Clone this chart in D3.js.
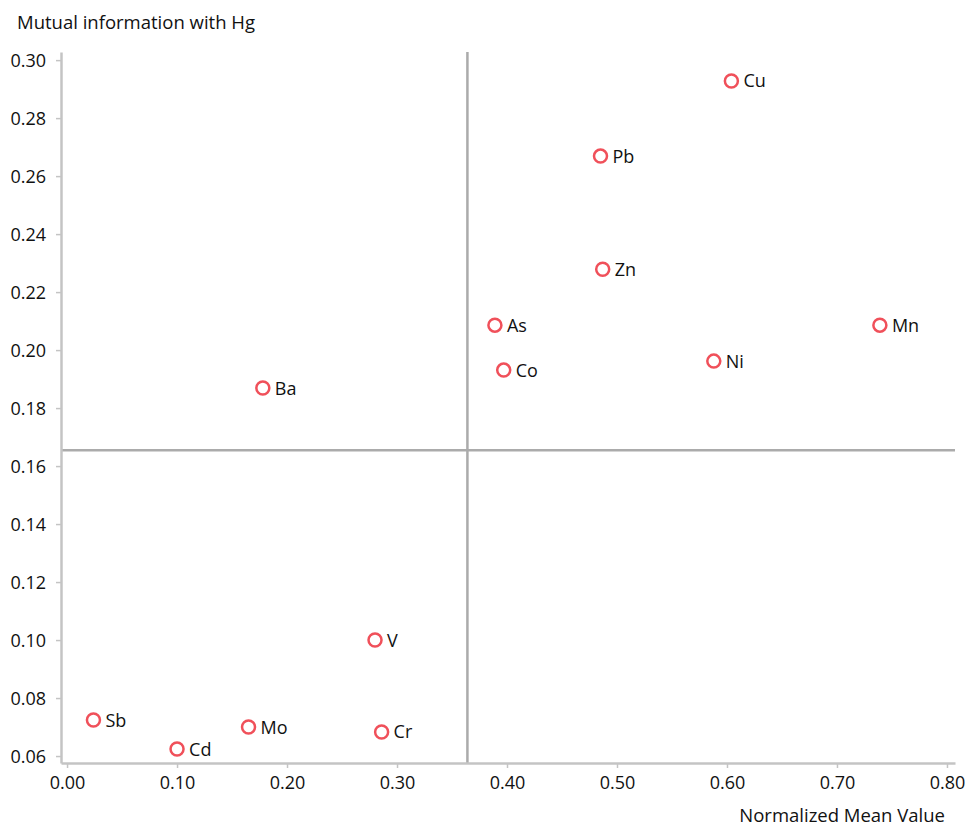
<!DOCTYPE html>
<html>
<head>
<meta charset="utf-8">
<script src="https://cdn.jsdelivr.net/npm/d3@7"></script>
<style>
  html, body { margin: 0; padding: 0; background: #fff; }
  svg { display: block; }
  text { font-family: "Open Sans", "DejaVu Sans", sans-serif; fill: #111; }
</style>
</head>
<body>
<svg id="chart" width="969" height="832"></svg>
<script>
// ---- data ----
const elements = ["Cu", "Pb", "Zn", "As", "Mn", "Co", "Ni", "Ba", "V", "Sb", "Mo", "Cr", "Cd"];
const meanValues = [0.604, 0.485, 0.487, 0.389, 0.739, 0.397, 0.588, 0.178, 0.280, 0.024, 0.165, 0.286, 0.100];
const mutualInfo = [0.2928, 0.2669, 0.2279, 0.2086, 0.2086, 0.1931, 0.1962, 0.1869, 0.1000, 0.0724, 0.0700, 0.0683, 0.0624];
const xTicks = [0.0, 0.1, 0.2, 0.3, 0.4, 0.5, 0.6, 0.7, 0.8];
const yTicks = [0.06, 0.08, 0.10, 0.12, 0.14, 0.16, 0.18, 0.20, 0.22, 0.24, 0.26, 0.28, 0.30];
const refX = 0.364;   // vertical reference line (x)
const refY = 0.1655;  // horizontal reference line (y)
const xTitle = "Normalized Mean Value";
const yTitle = "Mutual information with Hg";

// ---- layout ----
const svg = d3.select("#chart");
const mLeft = 61, mRight = 955, mTop = 52, mBottom = 763;
const x = d3.scaleLinear().domain([-0.0055, 0.8073]).range([mLeft, mRight]);
const y = d3.scaleLinear().domain([0.0576, 0.3028]).range([mBottom, mTop]);

const axisColor = "#c4c4c4";
const refColor = "#ababab";
const pointColor = "#f0505a";

// reference lines
svg.append("line")
  .attr("x1", x(refX)).attr("x2", x(refX))
  .attr("y1", mTop).attr("y2", mBottom)
  .attr("stroke", refColor).attr("stroke-width", 2.5);
svg.append("line")
  .attr("x1", mLeft).attr("x2", mRight)
  .attr("y1", y(refY)).attr("y2", y(refY))
  .attr("stroke", refColor).attr("stroke-width", 2.5);

// axes
const xAxis = d3.axisBottom(x).tickValues(xTicks).tickFormat(d3.format(".2f")).tickSize(5).tickSizeOuter(0).tickPadding(5);
const yAxis = d3.axisLeft(y).tickValues(yTicks).tickFormat(d3.format(".2f")).tickSize(5).tickSizeOuter(0).tickPadding(10);

const gx = svg.append("g").attr("transform", `translate(0,${mBottom})`).call(xAxis);
const gy = svg.append("g").attr("transform", `translate(${mLeft},0)`).call(yAxis);

[gx, gy].forEach(g => {
  g.select(".domain").attr("stroke", axisColor).attr("stroke-width", 2.5);
  g.selectAll(".tick line").attr("stroke", axisColor).attr("stroke-width", 1.5);
  g.selectAll(".tick text").attr("font-size", 18).attr("fill", "#111")
    .attr("font-family", '"Open Sans", sans-serif');
});
gx.selectAll(".tick text").attr("dy", "0.9em");
gy.selectAll(".tick text").attr("dy", "0.34em");

// axis titles
svg.append("text")
  .attr("x", 17).attr("y", 29)
  .attr("font-size", 18.5)
  .text(yTitle);
svg.append("text")
  .attr("x", 945).attr("y", 822)
  .attr("text-anchor", "end")
  .attr("font-size", 18.5)
  .text(xTitle);

// points
const data = elements.map((e, i) => ({ name: e, mx: meanValues[i], mi: mutualInfo[i] }));
const pts = svg.append("g").selectAll("g").data(data).join("g")
  .attr("transform", d => `translate(${x(d.mx)},${y(d.mi)})`);
pts.append("circle")
  .attr("r", 6.5)
  .attr("fill", "none")
  .attr("stroke", pointColor)
  .attr("stroke-width", 2.5);
pts.append("text")
  .attr("x", 12).attr("y", 6.5)
  .attr("font-size", 18)
  .text(d => d.name);
</script>
</body>
</html>
